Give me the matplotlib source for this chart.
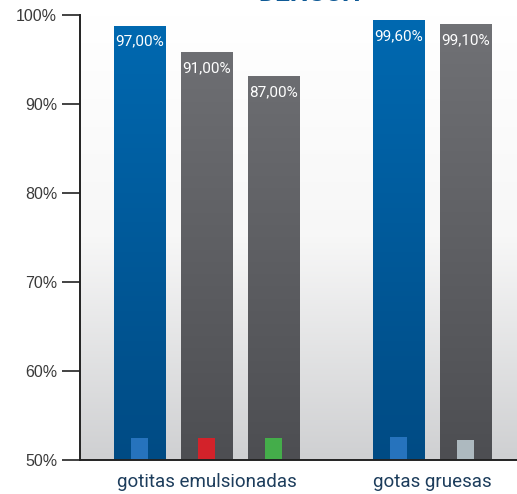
import numpy as np
import matplotlib
matplotlib.use('Agg')
import matplotlib.pyplot as plt
from matplotlib.colors import LinearSegmentedColormap

# data (bar heights as drawn, labels as printed)
groups = ['gotitas emulsionadas', 'gotas gruesas']
bar_x = [0, 1, 2, 3.87, 4.87]
bar_height = [98.8, 95.8, 93.1, 99.4, 99.0]
bar_label = ['97,00%', '91,00%', '87,00%', '99,60%', '99,10%']
bar_kind = ['blue', 'gray', 'gray', 'blue', 'gray']
marker_height = [52.5, 52.5, 52.5, 52.6, 52.3]
marker_color = ['#2673bd', '#d3222a', '#44ad4a', '#2673bd', '#adb9bf']
yticks = [50, 60, 70, 80, 90, 100]
ytick_labels = ['50%', '60%', '70%', '80%', '90%', '100%']

W, H = 517, 494
fig = plt.figure(figsize=(W / 100, H / 100), dpi=100)
ax = fig.add_axes([80 / W, (H - 460) / H, (W - 80) / W, 445 / H])

xlim = (-0.888, 5.634)
ylim = (50, 100)

# background gradient (white on top, light grey at the bottom)
bg = LinearSegmentedColormap.from_list('bg', [(0, '#cfd0d2'), (0.5, '#f7f7f7'), (1, '#ffffff')])
grad = np.linspace(0, 1, 256).reshape(-1, 1)
ax.imshow(grad, extent=[xlim[0], xlim[1], 50, 100], origin='lower', cmap=bg,
          aspect='auto', zorder=0)

cmaps = {
    'blue': LinearSegmentedColormap.from_list('b', ['#004b84', '#0069b1']),
    'gray': LinearSegmentedColormap.from_list('g', ['#4d4e52', '#717276']),
}

w = 51 / 67
bars = ax.bar(bar_x, [h - 50 for h in bar_height], bottom=50, width=w,
              color=['#00599a' if k == 'blue' else '#5f6064' for k in bar_kind], zorder=2)
for b, k, h in zip(bars, bar_kind, bar_height):
    x0 = b.get_x()
    im = ax.imshow(grad, extent=[x0, x0 + w, 50, 100], origin='lower', cmap=cmaps[k],
                   aspect='auto', zorder=2.5)
    im.set_clip_path(b)

ax.bar(bar_x, [m - 50 for m in marker_height], bottom=50, width=17 / 67,
       color=marker_color, zorder=3)

for x, h, lab in zip(bar_x, bar_height, bar_label):
    ax.annotate(lab, (x, h), xytext=(0, -11.5), textcoords='offset points',
                ha='center', va='center', color='white', fontsize=11,
                family=['Liberation Sans Narrow', 'Roboto', 'DejaVu Sans'], zorder=4)

ax.set_xlim(*xlim)
ax.set_ylim(*ylim)
ax.set_yticks(yticks)
ax.set_yticklabels(ytick_labels, fontsize=11.5, color='#333333',
                   family=['Liberation Sans', 'DejaVu Sans'])
ax.tick_params(axis='y', length=13, width=1.2, pad=3.5, colors='#222222', labelcolor='#3a3a3a')
ax.set_xticks([1, 4.37])
ax.set_xticklabels(groups, fontsize=13.5, color='#1d3d5c', family=['Roboto', 'DejaVu Sans'])
ax.tick_params(axis='x', length=0, pad=9.5)

for s in ['top', 'right']:
    ax.spines[s].set_visible(False)
for s in ['left', 'bottom']:
    ax.spines[s].set_linewidth(1.4)
    ax.spines[s].set_color('#222222')
    ax.spines[s].set_zorder(5)

# title, mostly cut off by the top edge
fig.text(310 / W, (H - 1) / H, 'DENSCH', ha='center', va='baseline',
         fontsize=19, fontweight='bold', color='#0f5a96', family=['Roboto', 'DejaVu Sans'])

fig.savefig('out.png', dpi=100)
